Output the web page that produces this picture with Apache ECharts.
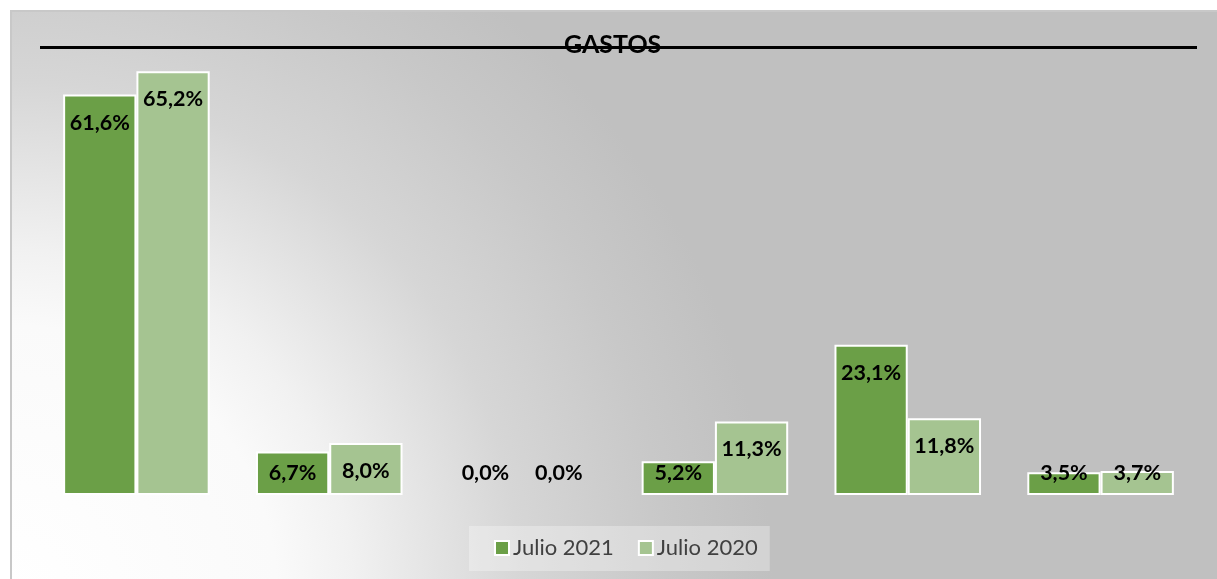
<!DOCTYPE html>
<html>
<head>
<meta charset="utf-8">
<script src="https://cdn.jsdelivr.net/npm/echarts@6/dist/echarts.min.js"></script>
<style>
  html, body { margin: 0; padding: 0; background: #ffffff; }
  #gastos { width: 1217px; height: 579px; }
</style>
</head>
<body>
<div id="gastos"></div>
<script>
// datos del gráfico
var categorias = ["Gasto 1", "Gasto 2", "Gasto 3", "Gasto 4", "Gasto 5", "Gasto 6"];
var julio2021 = [61.6, 6.7, 0.0, 5.2, 23.1, 3.5];
var julio2020 = [65.2, 8.0, 0.0, 11.3, 11.8, 3.7];

var chartDom = document.getElementById("gastos");
var myChart = echarts.init(chartDom);
var option;

// etiqueta dentro del extremo; si la barra es muy baja va abajo
function puntos(valores) {
  return valores.map(function (v) {
    var item = { value: v };
    if (v < 7.5) {
      item.label = { position: "insideBottom", distance: 11 };
    }
    if (v === 0) {
      item.itemStyle = { borderWidth: 0 };
    }
    return item;
  });
}

function fmt(p) {
  return p.value.toFixed(1).replace(".", ",") + "%";
}

var etiqueta = {
  show: true,
  position: "insideTop",
  distance: 17,
  formatter: fmt,
  color: "#000000",
  fontFamily: "Lato",
  fontWeight: "bold",
  fontSize: 21.5,
  lineHeight: 22,
};

option = {
  animation: false,
  title: {
    text: "GASTOS",
    left: 564,
    top: 33,
    padding: 0,
    textStyle: {
      fontFamily: "Lato",
      fontWeight: "bold",
      fontSize: 25,
      lineHeight: 24,
      color: "#000000",
    },
  },
  graphic: [
    {
      type: "rect",
      z: -10,
      shape: { x: 11, y: 11, width: 1220, height: 580 },
      style: {
        fill: new echarts.graphic.RadialGradient(0, 1, 1.31, [
          { offset: 0, color: "#ffffff" },
          { offset: 0.35, color: "#fafafa" },
          { offset: 0.45, color: "#f1f1f1" },
          { offset: 0.67, color: "#d6d6d6" },
          { offset: 0.86, color: "#c8c8c8" },
          { offset: 1, color: "#c0c0c0" },
        ]),
        stroke: "#c8c8c8",
        lineWidth: 2,
      },
    },
    {
      type: "line",
      z: 1,
      shape: { x1: 40, y1: 47.5, x2: 1197, y2: 47.5 },
      style: { stroke: "#000000", lineWidth: 3 },
    },
  ],
  grid: {
    left: 40,
    right: 20,
    top: 40,
    bottom: 84,
  },
  xAxis: {
    type: "category",
    data: categorias,
    axisLine: { show: false },
    axisTick: { show: false },
    axisLabel: { show: false },
  },
  yAxis: {
    type: "value",
    min: 0,
    max: 70,
    show: false,
    splitLine: { show: false },
  },
  legend: {
    left: 469,
    top: 526,
    padding: [10, 12, 11, 25],
    itemGap: 24,
    itemWidth: 14,
    itemHeight: 14,
    icon: "rect",
    backgroundColor: "rgba(255,255,255,0.3)",
    textStyle: {
      fontFamily: "Lato",
      fontSize: 22,
      lineHeight: 24,
      color: "#404040",
      padding: [0, 0, 0, -1],
    },
  },
  series: [
    {
      name: "Julio 2021",
      type: "bar",
      barGap: "0%",
      barCategoryGap: "24%",
      data: puntos(julio2021),
      itemStyle: { color: "#6B9F47", borderColor: "#ffffff", borderWidth: 2 },
      label: etiqueta,
    },
    {
      name: "Julio 2020",
      type: "bar",
      barGap: "0%",
      barCategoryGap: "24%",
      data: puntos(julio2020),
      itemStyle: { color: "#A5C491", borderColor: "#ffffff", borderWidth: 2 },
      label: etiqueta,
    },
  ],
};

option && myChart.setOption(option);
</script>
</body>
</html>
